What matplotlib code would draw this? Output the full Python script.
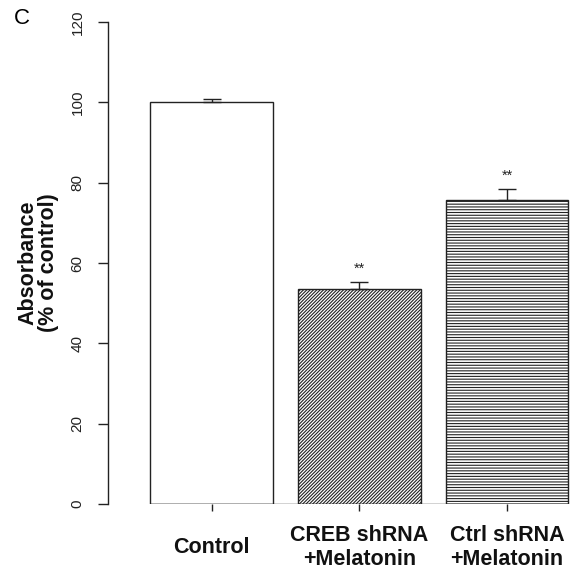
import numpy as np
import matplotlib
matplotlib.use('Agg')
import matplotlib.pyplot as plt

plt.rcParams['font.family'] = ['Liberation Sans', 'DejaVu Sans']
plt.rcParams['hatch.linewidth'] = 0.8

groups = ['Control', 'CREB shRNA\n+Melatonin', 'Ctrl shRNA\n+Melatonin']
means = [100.2, 53.5, 75.8]
errs = [0.7, 1.7, 2.6]
stars = ['', '**', '**']
hatches = ['', '//////////', '------']

x = np.arange(len(groups))
w = 0.83

fig = plt.figure(figsize=(5.7, 5.75), dpi=100)
ax = fig.add_axes([108/570, 1 - 504/575, 462/570, 482/575])

ax.bar(x, means, width=w, color='white', edgecolor='#222222', linewidth=1.0,
       hatch=hatches, zorder=2)
ax.errorbar(x, means, yerr=[np.zeros(len(errs)), errs], fmt='none',
            ecolor='#222222', elinewidth=1.0, capsize=6.2, capthick=1.0, zorder=3)
ax.hlines(0, x[0] - w/2, x[-1] + w/2, color='#222222', linewidth=1.0, zorder=3)

for xi, m, e, s in zip(x, means, errs, stars):
    if s:
        ax.text(xi, m + e + 1.6, s, ha='center', va='bottom', fontsize=10.5, color='#222222')

ax.set_xlim(-0.7026, 2.427)
ax.set_ylim(0, 120)
ax.set_yticks(np.arange(0, 121, 20))
ax.tick_params(axis='y', length=7, width=1.0, labelsize=11, pad=10, labelrotation=90, colors='#222222')
for lab in ax.get_yticklabels():
    lab.set_va('center')
ax.set_xticks(x)
ax.set_xticklabels([])
ax.tick_params(axis='x', length=5, width=1.0, colors='#222222')

for sp in ['top', 'right', 'bottom']:
    ax.spines[sp].set_visible(False)
ax.spines['left'].set_linewidth(1.0)
ax.spines['left'].set_color('#222222')

for xi, g in zip(x, groups):
    ax.text(xi, -0.09, g, transform=ax.get_xaxis_transform(), ha='center', va='center',
            fontsize=15.5, fontweight='bold', linespacing=1.15, color='#111111')

ax.set_ylabel('Absorbance\n(% of control)', fontsize=15.5, fontweight='bold', linespacing=1.0, color='#111111')
ax.yaxis.set_label_coords(-0.105, 0.5)

fig.text(22/570, 1 - 18/575, 'C', ha='center', va='center', fontsize=16)

fig.savefig('out.png', dpi=100)
